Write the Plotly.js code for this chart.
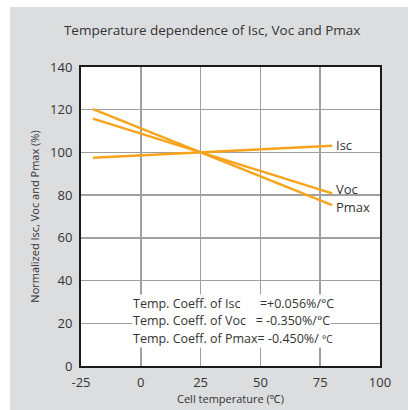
<!DOCTYPE html>
<html>
<head>
<meta charset="utf-8">
<script src="https://cdn.plot.ly/plotly-3.0.1.min.js"></script>
<style>
html,body{margin:0;padding:0;background:#fff;}
#bg{position:absolute;left:10px;top:7px;width:398px;height:403px;background:#dcdddf;}
#chart{position:absolute;left:0;top:0;width:408px;height:410px;}
</style>
</head>
<body>
<div id="bg"></div>
<div id="chart"></div>
<script>
const temps = [-20, 25, 80];
const isc = [97.5, 100, 103.1];
const voc = [115.8, 100, 80.8];
const pmax = [120.3, 100, 75.3];
const seriesNames = ['Isc', 'Voc', 'Pmax'];
const coeffLabels = ['Temp. Coeff. of Isc', 'Temp. Coeff. of Voc', 'Temp. Coeff. of Pmax'];
const coeffValues = ['=+0.056%/°C', '= -0.350%/°C', '= -0.450%/ <span style="font-size:10px">°C</span>'];
const xTicks = [-25, 0, 25, 50, 75, 100];
const yTicks = [0, 20, 40, 60, 80, 100, 120, 140];

const orange = '#f7a41d';
const font = 'Open Sans, Noto Sans, sans-serif';
const series = [isc, voc, pmax];
const traces = series.map((s, i) => ({
  x: temps, y: s, type: 'scatter', mode: 'lines', name: seriesNames[i],
  line: {color: orange, width: 2.5}, hoverinfo: 'skip'
}));

const labelY = [103.5, 83.1, 74.6];
const ann = seriesNames.map((n, i) => ({
  x: 80.6, y: labelY[i], xref: 'x', yref: 'y', text: n, showarrow: false,
  xanchor: 'left', yanchor: 'middle', font: {family: font, size: 13, color: '#333'}
}));
const gaps = [6, 3, 0];
const rowY = [29.5, 21.2, 12.8];
coeffLabels.forEach((t, i) => {
  ann.push({x: -3.8, y: rowY[i], xref: 'x', yref: 'y',
    text: t + '\u00a0'.repeat(gaps[i]) + coeffValues[i], showarrow: false,
    xanchor: 'left', yanchor: 'middle', bgcolor: '#fff', borderpad: 0,
    font: {family: font, size: 12.5, color: '#333'}});
});

const layout = {
  width: 408, height: 410,
  margin: {l: 81, r: 28, t: 67, b: 44},
  paper_bgcolor: 'rgba(0,0,0,0)', plot_bgcolor: '#fff',
  showlegend: false,
  title: {text: 'Temperature dependence of Isc, Voc and Pmax', x: 0.52, xanchor: 'center',
    y: 0.927, yanchor: 'middle', font: {family: font, size: 13.5, color: '#333'}},
  xaxis: {range: [-25, 100], tickvals: xTicks, ticktext: xTicks.map(String),
    showgrid: true, gridcolor: '#a0a0a0', gridwidth: 1.5, zeroline: false,
    showline: true, mirror: true, linecolor: '#1a1a1a', linewidth: 2, ticks: '',
    ticklabelstandoff: 3,
    tickfont: {family: font, size: 13, color: '#333'},
    title: {text: 'Cell temperature (℃)', standoff: 6, font: {family: font, size: 11, color: '#333'}}},
  yaxis: {range: [0, 140], tickvals: yTicks, ticktext: yTicks.map(String),
    showgrid: true, gridcolor: '#a0a0a0', gridwidth: 1.5, zeroline: false,
    showline: true, mirror: true, linecolor: '#1a1a1a', linewidth: 2, ticks: '',
    ticklabelstandoff: 4,
    tickfont: {family: font, size: 13, color: '#333'},
    title: {text: 'Normalized Isc, Voc and Pmax (%)', standoff: 8, font: {family: font, size: 11, color: '#333'}}},
  annotations: ann
};
Plotly.newPlot('chart', traces, layout, {displayModeBar: false, staticPlot: true});
</script>
</body>
</html>
